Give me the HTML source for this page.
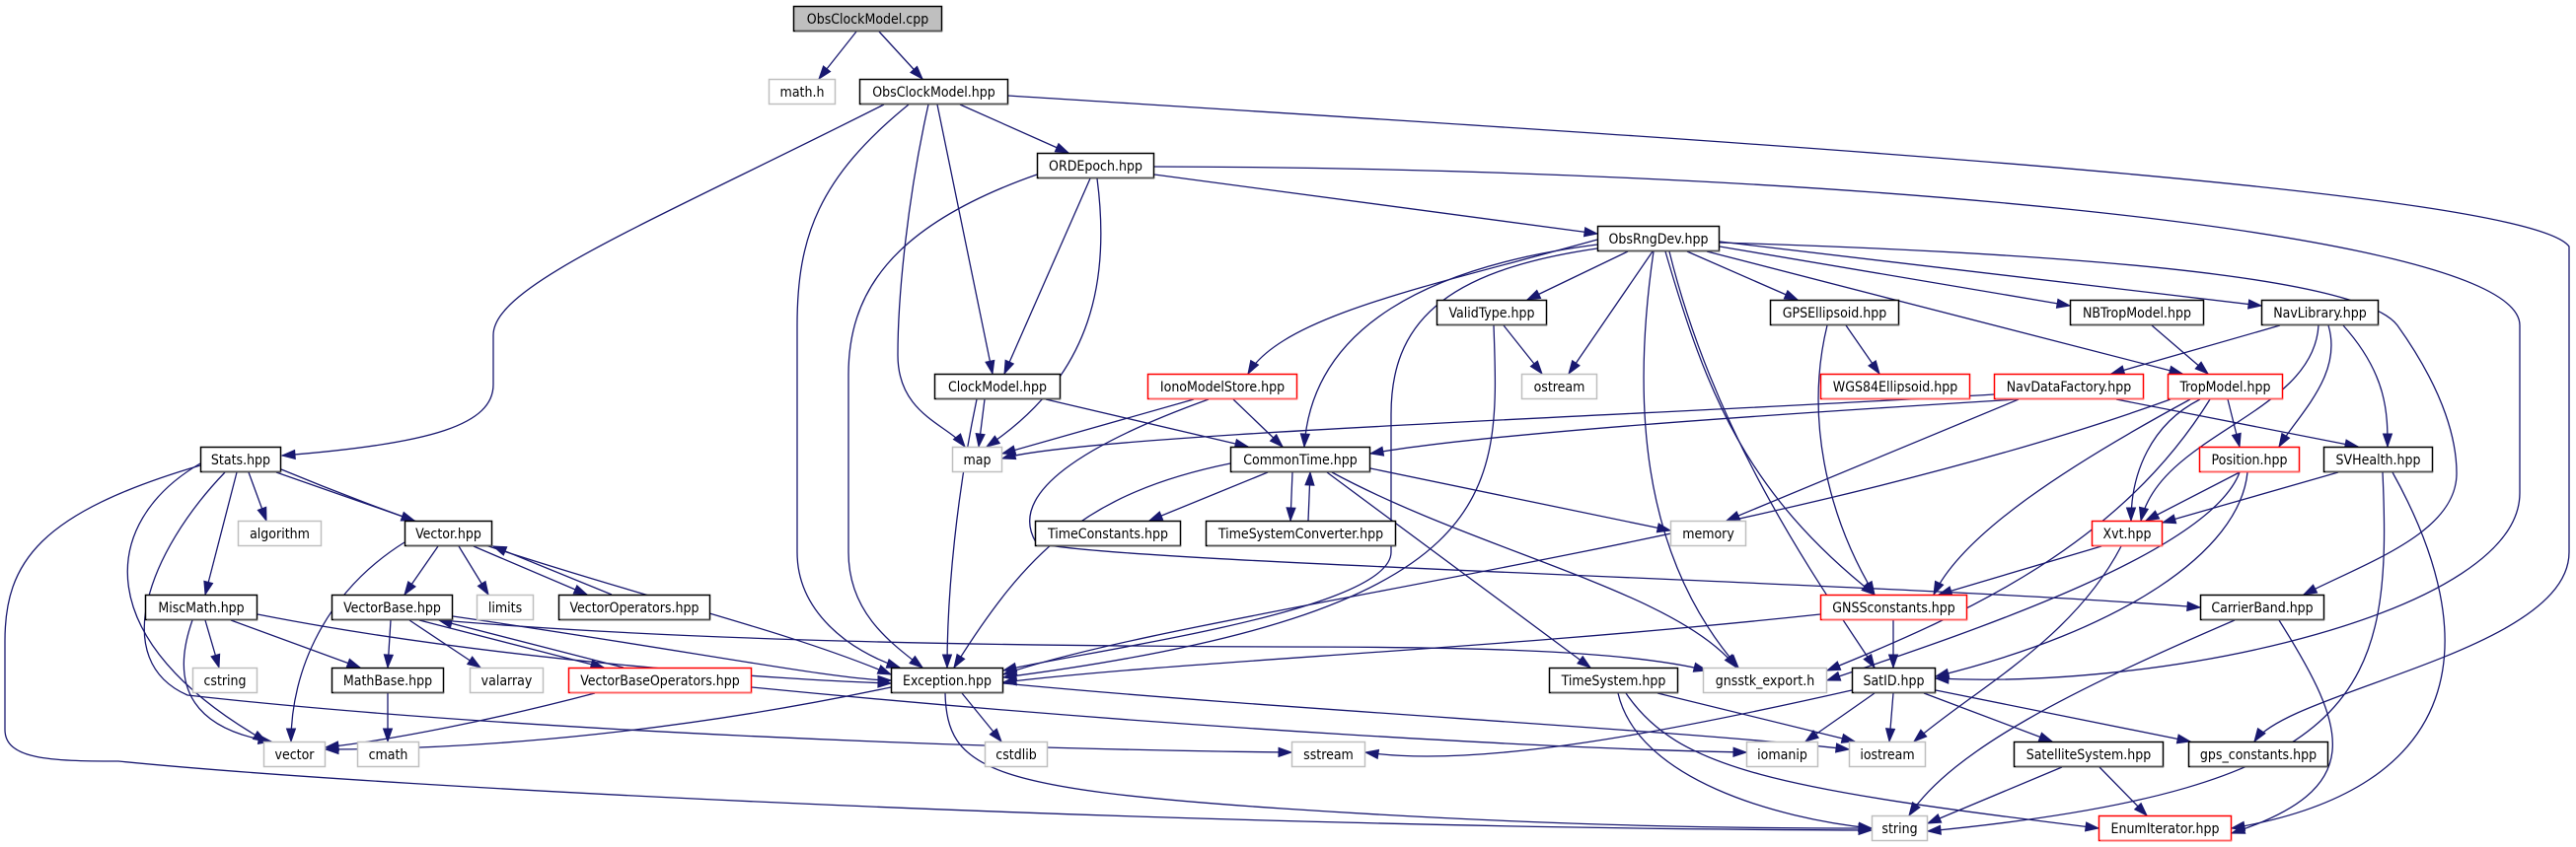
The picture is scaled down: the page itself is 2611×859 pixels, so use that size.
<!DOCTYPE html>
<html><head><meta charset="utf-8">
<style>
html,body{margin:0;padding:0;background:#fff;width:2611px;height:859px;overflow:hidden}
svg{display:block}
text{font-family:"DejaVu Sans Condensed","DejaVu Sans","Liberation Sans",sans-serif;font-size:14px;fill:#000}
</style></head><body>
<svg id="g" width="2611" height="859" viewBox="0 0 2611 859" xmlns="http://www.w3.org/2000/svg">
<g id="edges" fill="none" stroke="#191970" stroke-width="1.3"></g>
<g id="arrows" fill="#191970" stroke="#191970"></g>
<g id="nodes"></g>
</svg>
<script>
var N=[
["ObsClockModel.cpp",804,6,955,32,"s"],["math.h",779,80,847,106,"g"],["ObsClockModel.hpp",871,80,1022,106,"b"],
["ORDEpoch.hpp",1051,155,1170,181,"b"],["ObsRngDev.hpp",1619,229,1743,255,"b"],["ValidType.hpp",1456,304,1568,330,"b"],
["GPSEllipsoid.hpp",1794,304,1925,330,"b"],["NBTropModel.hpp",2098,304,2234,330,"b"],["NavLibrary.hpp",2292,304,2411,330,"b"],
["ClockModel.hpp",947,379,1075,405,"b"],["IonoModelStore.hpp",1163,379,1315,405,"r"],["ostream",1542,379,1619,405,"g"],
["WGS84Ellipsoid.hpp",1845,379,1997,405,"r"],["NavDataFactory.hpp",2021,379,2173,405,"r"],["TropModel.hpp",2197,379,2314,405,"r"],
["Stats.hpp",203,453,285,479,"b"],["map",965,453,1016,479,"g"],["CommonTime.hpp",1247,453,1389,479,"b"],
["Position.hpp",2229,453,2331,479,"r"],["SVHealth.hpp",2355,453,2466,479,"b"],["algorithm",241,528,326,554,"g"],
["Vector.hpp",410,528,499,554,"b"],["TimeConstants.hpp",1049,528,1197,554,"b"],["TimeSystemConverter.hpp",1222,528,1415,554,"b"],
["memory",1693,528,1770,554,"g"],["Xvt.hpp",2120,528,2192,554,"r"],["MiscMath.hpp",147,603,261,629,"b"],
["VectorBase.hpp",336,603,459,629,"b"],["limits",483,603,541,629,"g"],["VectorOperators.hpp",566,603,720,629,"b"],
["GNSSconstants.hpp",1845,603,1994,629,"r"],["CarrierBand.hpp",2230,603,2356,629,"b"],["cstring",195,677,261,703,"g"],
["MathBase.hpp",336,677,450,703,"b"],["valarray",476,677,551,703,"g"],["VectorBaseOperators.hpp",576,677,762,703,"r"],
["Exception.hpp",903,677,1017,703,"b"],["TimeSystem.hpp",1570,677,1701,703,"b"],["gnsstk_export.h",1726,677,1852,703,"g"],
["SatID.hpp",1877,677,1962,703,"b"],["vector",267,752,330,778,"g"],["cmath",362,752,425,778,"g"],["cstdlib",998,752,1062,778,"g"],
["sstream",1309,752,1384,778,"g"],["iomanip",1770,752,1843,778,"g"],["iostream",1874,752,1952,778,"g"],
["SatelliteSystem.hpp",2041,752,2193,778,"b"],["gps_constants.hpp",2218,752,2360,778,"b"],["string",1897,827,1954,853,"g"],
["EnumIterator.hpp",2127,827,2262,853,"r"]];
var E=[
[868,32,830,80],[891,32,935,80],[973,106,1083,155],
[896,106,650,230,500,290,500,340,500,360,500,370,500,390,500,430,440,450,286,462],
[921,106,830,180,808,240,808,330,808,400,808,500,808,560,808,620,860,660,912,677],
[941,106,920,200,910,300,910,360,910,420,960,430,978,453],
[950,106,1006,379],
[1022,97,1700,140,2560,190,2604,250,2604,350,2604,460,2604,560,2604,660,2320,700,2285,752],
[1170,177,1619,237],
[1170,169,1800,170,2554,230,2554,330,2554,390,2554,440,2554,500,2554,620,2200,700,1962,688],
[1105,181,1018,379],[1112,181,1125,280,1110,380,1000,453],
[1051,177,900,230,860,300,860,380,860,440,860,500,860,560,860,620,900,650,935,677],
[1650,255,1548,304],[1675,255,1590,379],[1710,255,1822,304],[1743,250,2098,310],[1743,245,2292,310],[1730,255,2212,379],
[1619,243,1450,290,1300,320,1265,379],[1619,248,1450,270,1330,330,1322,453],
[1619,252,1460,275,1410,330,1410,420,1410,480,1410,520,1410,560,1410,620,1100,660,1017,680],
[1676,255,1655,400,1660,560,1762,677],[1688,255,1730,400,1770,500,1900,603],[1692,255,1740,450,1850,600,1900,677],
[1743,246,2200,260,2400,290,2430,330,2480,400,2490,450,2490,480,2490,540,2400,570,2335,603],
[1871,330,1905,379],[1852,330,1830,420,1850,520,1900,603],[1524,330,1563,379],[1514,330,1520,500,1530,620,1017,687],
[2181,330,2238,379],[2311,330,2140,379],[2360,330,2375,380,2330,420,2310,453],[2375,330,2420,380,2420,420,2420,453],
[2350,330,2345,420,2190,440,2170,528],[2021,400,1700,420,1100,440,1016,465],[2045,405,1800,420,1500,440,1389,460],
[2046,405,1750,528],[2145,405,2390,453],[2258,405,2270,453],[2230,405,2180,430,2160,480,2160,528],
[2220,405,2100,470,1990,540,1960,603],[2200,405,1800,550,1200,620,1017,684],[2240,405,2150,550,2000,620,1852,680],
[1210,405,1016,460],[1250,405,1300,453],[1225,405,1100,450,1020,500,1050,550,1100,570,1900,590,2230,616],
[998,405,992,453],[990,405,970,500,960,600,960,677],[1060,405,1265,453],[1285,479,1165,528],[1310,479,1308,528],
[1326,528,1328,479],[1389,475,1693,538],[1345,479,1612,677],[1350,479,1500,560,1700,600,1760,677],
[1247,470,1100,500,1040,560,967,677],[2270,479,2175,528],[2270,479,2240,560,2000,640,1852,690],
[2278,479,2270,560,2150,640,1962,686],[2370,479,2192,530],[2415,479,2425,700,2400,800,1954,843],
[2425,479,2520,650,2500,800,2262,840],[2130,554,1965,603],[2150,554,2100,650,2000,700,1940,752],
[1919,629,1919,677],[1845,623,1500,660,1200,670,1017,692],[2265,629,2100,700,1980,760,1935,827],
[2310,629,2380,740,2400,800,2262,845],[1680,703,1880,752],[1640,703,1660,790,1800,830,1897,840],
[1648,703,1700,780,1800,800,2127,840],[1900,703,1830,752],[1919,703,1915,752],[1877,700,1700,740,1500,780,1384,763],
[1950,703,2080,752],[1962,700,2220,752],[2090,778,1954,835],[2128,778,2176,827],[903,697,700,740,500,760,330,760],
[975,703,1015,752],[958,703,960,780,1000,800,1300,820,1600,840,1800,840,1897,840],[1017,693,1300,720,1700,740,1874,760],
[252,479,270,528],[280,479,420,528],[240,479,208,603],[285,476,560,590,750,620,903,684],[203,470,100,530,90,650,270,752],
[203,472,40,520,5,570,5,650,5,700,5,720,5,740,5,770,50,772,120,772,400,800,1200,840,1897,842],
[228,479,150,560,110,670,190,705,500,740,1000,760,1309,763],
[444,554,410,603],[465,554,495,603],[480,554,595,603],[620,603,500,554],[410,550,330,600,295,680,295,752],
[396,629,393,677],[415,629,487,677],[425,629,612,677],[632,677,445,629],[459,625,700,660,850,690,903,690],
[459,630,700,650,1000,655,1300,656,1500,656,1650,660,1730,680],[603,703,500,730,400,750,330,758],
[762,697,1200,740,1600,760,1770,763],[208,629,222,677],[234,629,365,677],[195,629,170,700,200,740,275,752],
[261,623,500,670,800,690,903,693],[393,703,393,752]];
var NS="http://www.w3.org/2000/svg",eg=document.getElementById("edges"),ag=document.getElementById("arrows"),ng=document.getElementById("nodes");
function el(t,a,p){var e=document.createElementNS(NS,t);for(var k in a)e.setAttribute(k,a[k]);p.appendChild(e);return e;}
E.forEach(function(a){
  var d="M"+a[0]+","+a[1],n=a.length;
  if(n==4){d+=" L"+a[2]+","+a[3];}else{for(var i=2;i<n;i+=6)d+=" C"+a.slice(i,i+6).join(",");}
  el("path",{d:d},eg);
  var tx=a[n-2],ty=a[n-1],px=a[n-4],py=a[n-3];
  if(px==tx&&py==ty){px=a[0];py=a[1];}
  var dx=tx-px,dy=ty-py,L=Math.sqrt(dx*dx+dy*dy)||1;dx/=L;dy/=L;
  var bl=13,w=4.5,bx=tx-dx*bl,by=ty-dy*bl;
  el("polygon",{points:tx+","+ty+" "+(bx-dy*w)+","+(by+dx*w)+" "+(bx+dy*w)+","+(by-dx*w)},ag);
});
N.forEach(function(n){
  var t=n[5],st=t=="g"?"#bfbfbf":t=="r"?"#ff0000":"#000",fill=t=="s"?"#bfbfbf":"#fff";
  el("rect",{x:n[1]+0.5,y:n[2]+0.5,width:n[3]-n[1]-1,height:n[4]-n[2]-1,fill:fill,stroke:st,"stroke-width":1.5},ng);
  if(t!="g")el("line",{x1:n[1]+2,y1:n[4]-0.5,x2:n[3],y2:n[4]-0.5,stroke:t=="r"?"#ff6060":"#555","stroke-width":1.5},ng);
  var tx=el("text",{x:(n[1]+n[3])/2,y:(n[2]+n[4])/2+5,"text-anchor":"middle"},ng);tx.textContent=n[0];
});
</script>
</body></html>
